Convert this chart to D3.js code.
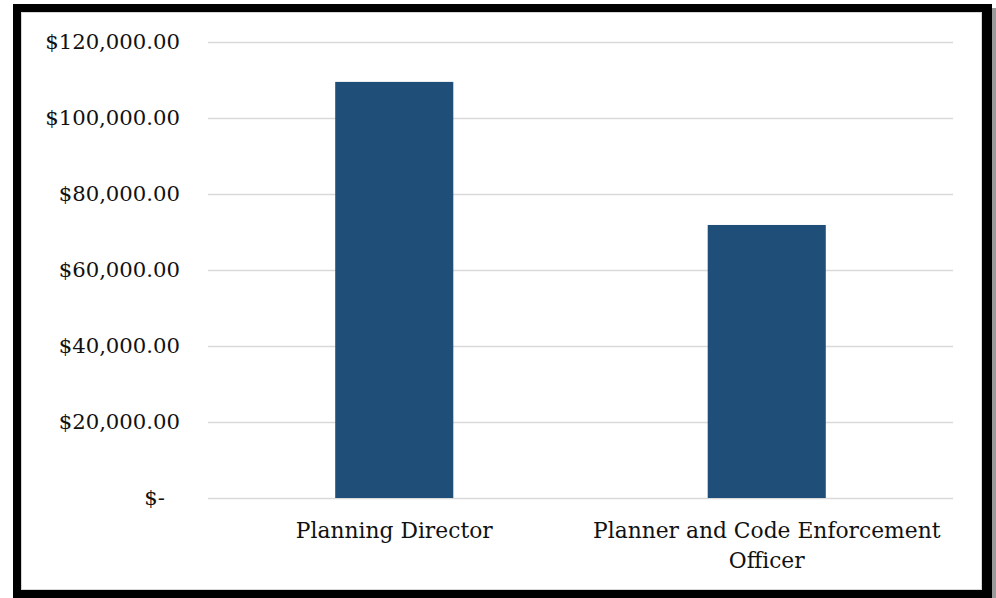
<!DOCTYPE html>
<html>
<head>
<meta charset="utf-8">
<script src="https://cdn.jsdelivr.net/npm/d3@7"></script>
<style>
  html, body { margin: 0; padding: 0; background: #fff; }
  svg { display: block; }
</style>
</head>
<body>
<svg id="chart"></svg>
<script>
// salary data
const categories = ["Planning Director", "Planner and Code Enforcement Officer"];
const salaries = [109500, 71850];
const yTicks = [0, 20000, 40000, 60000, 80000, 100000, 120000];

const svgWidth = 996;
const svgHeight = 598;
const margin = { top: 42, right: 43, bottom: 100, left: 208 };
const width = svgWidth - margin.left - margin.right;
const height = 456;

const svg = d3.select("#chart")
  .attr("width", svgWidth)
  .attr("height", svgHeight);

// frame with shadow
svg.append("rect")
  .attr("x", 990).attr("y", 8)
  .attr("width", 6).attr("height", 592)
  .attr("fill", "#9a9a9a");
svg.append("rect")
  .attr("x", 13).attr("y", 4)
  .attr("width", 979).attr("height", 600)
  .attr("fill", "#000");
svg.append("rect")
  .attr("x", 21.5).attr("y", 12.5)
  .attr("width", 960).attr("height", 577)
  .attr("fill", "#fff")
  .attr("stroke", "#d6d6d6")
  .attr("stroke-width", 1);

const g = svg.append("g")
  .attr("transform", `translate(${margin.left},${margin.top})`);

const x = d3.scaleBand()
  .domain(categories)
  .range([0, width])
  .paddingInner(0.683)
  .paddingOuter(0.683 / 2);

const y = d3.scaleLinear()
  .domain([0, 120000])
  .range([height, 0]);

const fontFamily = "'DejaVu Serif', serif";

// grid lines
g.append("g")
  .attr("class", "y-grid")
  .call(d3.axisLeft(y).tickValues(yTicks).tickSize(-width).tickFormat(""))
  .call((sel) => sel.select(".domain").remove())
  .selectAll("line")
  .style("stroke", "#d9d9d9")
  .style("stroke-width", 1.6);

// y labels
const yAxis = g.append("g")
  .attr("class", "y-axis")
  .call(
    d3.axisLeft(y)
      .tickValues(yTicks)
      .tickSize(0)
      .tickPadding(28)
      .tickFormat((d) => d === 0 ? "$-" : "$" + d3.format(",.2f")(d))
  );
yAxis.select(".domain").remove();
yAxis.selectAll("text")
  .style("font-family", fontFamily)
  .style("font-size", "21.2px")
  .style("fill", "#111")
  .attr("dx", (d) => d === 0 ? -15 : 0);

// bars
g.selectAll(".bar")
  .data(categories)
  .join("rect")
  .attr("class", "bar")
  .attr("x", (d) => x(d))
  .attr("y", (d, i) => y(salaries[i]))
  .attr("width", x.bandwidth())
  .attr("height", (d, i) => height - y(salaries[i]))
  .attr("fill", "#1f4e79");

// category labels, wrapped like the original
const labelLines = [["Planning Director"], ["Planner and Code Enforcement", "Officer"]];
const labels = g.append("g").attr("class", "x-axis");
categories.forEach((cat, i) => {
  const t = labels.append("text")
    .attr("x", x(cat) + x.bandwidth() / 2)
    .attr("y", height + 40)
    .attr("text-anchor", "middle")
    .style("font-family", fontFamily)
    .style("font-size", "21.8px")
    .style("fill", "#111");
  labelLines[i].forEach((line, j) => {
    t.append("tspan")
      .attr("x", x(cat) + x.bandwidth() / 2)
      .attr("dy", j === 0 ? 0 : 29.5)
      .text(line);
  });
});
</script>
</body>
</html>
